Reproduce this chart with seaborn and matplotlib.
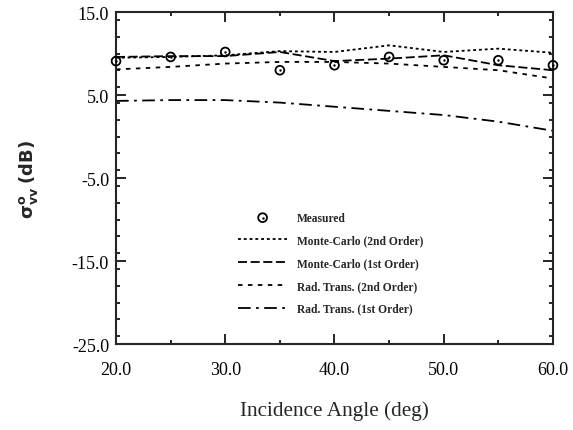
import matplotlib
matplotlib.use("Agg")
import matplotlib.pyplot as plt
from matplotlib.legend_handler import HandlerTuple
from matplotlib.ticker import MultipleLocator
import seaborn as sns
import pandas as pd

# incidence angles (deg)
angles = [20, 25, 30, 35, 40, 45, 50, 55, 60]

# backscatter values (dB)
measured = [9.1, 9.6, 10.2, 8.0, 8.6, 9.6, 9.2, 9.2, 8.6]
mc_2nd = [9.5, 9.6, 9.8, 10.3, 10.2, 11.0, 10.2, 10.6, 10.1]
mc_1st = [9.6, 9.7, 9.7, 10.2, 9.1, 9.4, 9.8, 8.6, 8.0]
rt_2nd = [8.1, 8.4, 8.8, 9.0, 9.0, 8.8, 8.4, 8.0, 7.0]
rt_1st = [4.3, 4.4, 4.4, 4.1, 3.6, 3.1, 2.6, 1.8, 0.7]

sns.set_style("ticks")
plt.rcParams["font.family"] = ["Liberation Serif", "DejaVu Serif"]
plt.rcParams["mathtext.fontset"] = "dejavusans"

fig = plt.figure(figsize=(5.73, 4.31), dpi=100)
ax = fig.add_axes([0.2025, 0.1995, 0.7625, 0.770])

df = pd.DataFrame({"angle": angles, "measured": measured, "mc2": mc_2nd,
                   "mc1": mc_1st, "rt2": rt_2nd, "rt1": rt_1st})

styles = [
    ("mc2", "Monte-Carlo (2nd Order)", (1.6, 1.6)),
    ("mc1", "Monte-Carlo (1st Order)", (5, 2)),
    ("rt2", "Rad. Trans. (2nd Order)", (2.5, 3)),
    ("rt1", "Rad. Trans. (1st Order)", (7, 3, 1.5, 3)),
]
line_handles = []
for col, label, dash in styles:
    sns.lineplot(data=df, x="angle", y=col, ax=ax, color="black", lw=1.3,
                 dashes=False, legend=False)
    ln = ax.lines[-1]
    ln.set_dashes(dash)
    line_handles.append((ln, label))

sns.scatterplot(data=df, x="angle", y="measured", ax=ax, marker="o", s=40,
                facecolors="none", edgecolor="black", linewidth=1.3,
                legend=False, clip_on=False, zorder=5)
sns.scatterplot(data=df, x="angle", y="measured", ax=ax, marker="o", s=3,
                color="black", linewidth=0, legend=False, clip_on=False,
                zorder=6)
ring = ax.collections[-2]
dot = ax.collections[-1]

handles = [(ring, dot)] + [h for h, _ in line_handles]
labels = ["Measured"] + [l for _, l in line_handles]
leg = ax.legend(handles, labels, loc="upper left",
                bbox_to_anchor=(0.255, 0.43), frameon=False,
                handlelength=4.3, handletextpad=0.8, labelspacing=0.93,
                prop={"family": "Liberation Serif", "weight": "bold", "size": 8.3},
                handler_map={tuple: HandlerTuple(ndivide=1)})

ax.set_xlim(20, 60)
ax.set_ylim(-25, 15)
ax.set_xticks([20, 30, 40, 50, 60])
ax.set_xticklabels(["20.0", "30.0", "40.0", "50.0", "60.0"])
ax.set_yticks([-25, -15, -5, 5, 15])
ax.set_yticklabels(["-25.0", "-15.0", "-5.0", "5.0", "15.0"])
ax.xaxis.set_minor_locator(MultipleLocator(5))
ax.yaxis.set_minor_locator(MultipleLocator(2))
ax.tick_params(which="both", direction="in", top=True, right=True,
               labelsize=13, width=1.2, colors="black")
ax.tick_params(which="major", length=7)
ax.tick_params(axis="x", which="major", pad=12)
ax.tick_params(axis="y", which="major", pad=5)
ax.tick_params(which="minor", length=3)
for sp in ax.spines.values():
    sp.set_linewidth(1.5)
    sp.set_visible(True)

ax.set_xlabel("Incidence Angle (deg)", fontsize=15.3, labelpad=16)
ax.set_ylabel(r"$\mathbf{\sigma^{o}_{vv}}$ $\mathbf{(dB)}$", fontsize=13,
              labelpad=23)

fig.savefig("out.png", dpi=100)
